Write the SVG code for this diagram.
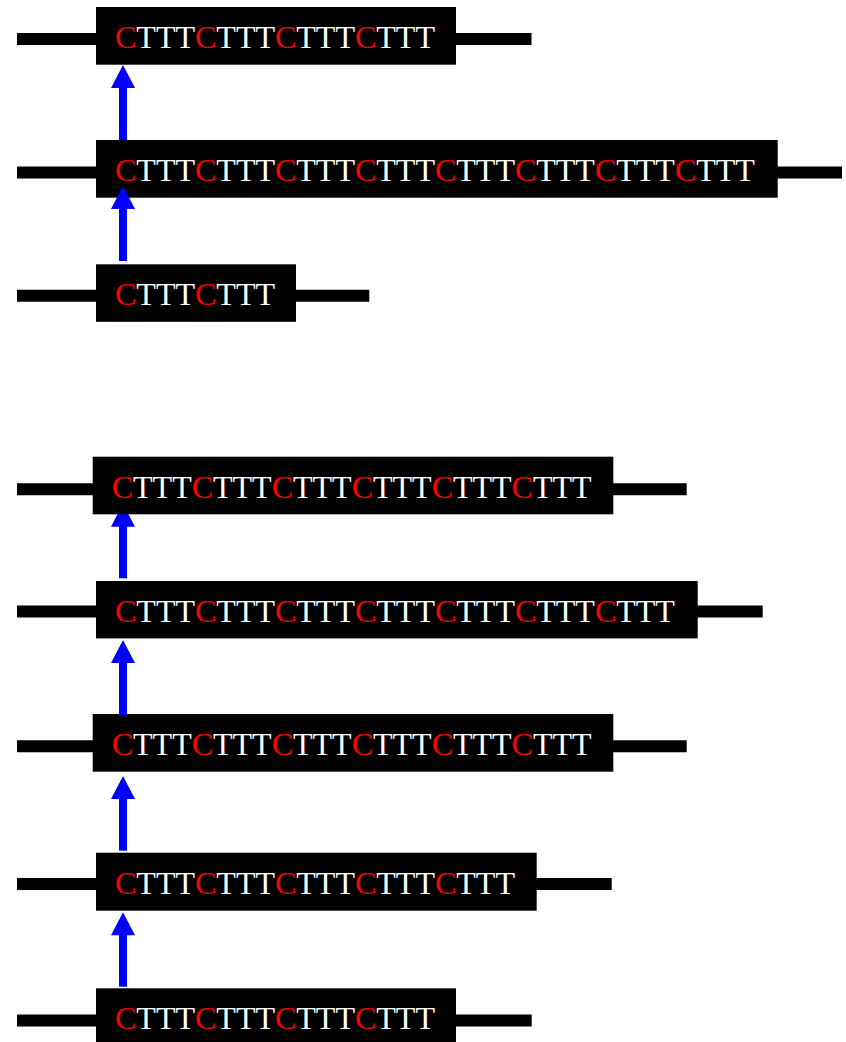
<svg xmlns="http://www.w3.org/2000/svg" width="846" height="1042" viewBox="0 0 846 1042">
<style>
.bb{stroke:#000;stroke-width:12;fill:none}
.box{fill:#000}
.t{font-family:"Liberation Serif","Times New Roman",serif;font-size:32px;fill:#fff}
.c{fill:#ff0000}
.arr{stroke:#0000ff;stroke-width:8;fill:none;marker-end:url(#ah)}
</style>
<defs>
<marker id="ah" markerUnits="userSpaceOnUse" markerWidth="24" markerHeight="24" refX="3" refY="12" orient="auto" viewBox="0 0 23 24">
<path d="M0,0 L23,12 L0,24 Z" fill="#0000ff"/>
</marker>
</defs>
<rect width="846" height="1042" fill="#fff"/>
<g id="row1">
<line class="bb" x1="17" y1="39" x2="531.5" y2="39"/>
<rect class="box" x="96" y="7" width="360" height="57.7"/>
<text class="t" x="115" y="48"><tspan class="c">C</tspan>TTT<tspan class="c">C</tspan>TTT<tspan class="c">C</tspan>TTT<tspan class="c">C</tspan>TTT</text>
</g>
<g id="row2">
<line class="bb" x1="17" y1="172.5" x2="842" y2="172.5"/>
<rect class="box" x="96" y="140" width="681.7" height="57.7"/>
<text class="t" x="115" y="181"><tspan class="c">C</tspan>TTT<tspan class="c">C</tspan>TTT<tspan class="c">C</tspan>TTT<tspan class="c">C</tspan>TTT<tspan class="c">C</tspan>TTT<tspan class="c">C</tspan>TTT<tspan class="c">C</tspan>TTT<tspan class="c">C</tspan>TTT</text>
</g>
<g id="row3">
<line class="bb" x1="17" y1="295.8" x2="369.3" y2="295.8"/>
<rect class="box" x="96" y="264.3" width="200" height="57.5"/>
<text class="t" x="115" y="305"><tspan class="c">C</tspan>TTT<tspan class="c">C</tspan>TTT</text>
</g>
<g id="row5">
<line class="bb" x1="17" y1="611.5" x2="762.7" y2="611.5"/>
<rect class="box" x="96" y="581" width="601.7" height="57.4"/>
<text class="t" x="115" y="622"><tspan class="c">C</tspan>TTT<tspan class="c">C</tspan>TTT<tspan class="c">C</tspan>TTT<tspan class="c">C</tspan>TTT<tspan class="c">C</tspan>TTT<tspan class="c">C</tspan>TTT<tspan class="c">C</tspan>TTT</text>
</g>
<g id="row6">
<line class="bb" x1="17" y1="746.2" x2="686.7" y2="746.2"/>
<rect class="box" x="92.7" y="714" width="520.6" height="57.7"/>
<text class="t" x="111.7" y="755"><tspan class="c">C</tspan>TTT<tspan class="c">C</tspan>TTT<tspan class="c">C</tspan>TTT<tspan class="c">C</tspan>TTT<tspan class="c">C</tspan>TTT<tspan class="c">C</tspan>TTT</text>
</g>
<g id="row7">
<line class="bb" x1="17" y1="883.9" x2="611.7" y2="883.9"/>
<rect class="box" x="96" y="852.7" width="440.7" height="58"/>
<text class="t" x="115" y="893.7"><tspan class="c">C</tspan>TTT<tspan class="c">C</tspan>TTT<tspan class="c">C</tspan>TTT<tspan class="c">C</tspan>TTT<tspan class="c">C</tspan>TTT</text>
</g>
<g id="row8">
<line class="bb" x1="17" y1="1020.5" x2="531.7" y2="1020.5"/>
<rect class="box" x="96" y="988.3" width="360" height="60"/>
<text class="t" x="115" y="1029.3"><tspan class="c">C</tspan>TTT<tspan class="c">C</tspan>TTT<tspan class="c">C</tspan>TTT<tspan class="c">C</tspan>TTT</text>
</g>
<g id="connectors">
<line class="arr" x1="123" y1="140" x2="123" y2="85"/>
<line class="arr" x1="123" y1="261" x2="123" y2="206"/>
<line class="arr" x1="123" y1="578.3" x2="123" y2="523.7"/>
<line class="arr" x1="123" y1="715" x2="123" y2="660"/>
<line class="arr" x1="123" y1="850.7" x2="123" y2="796"/>
<line class="arr" x1="123" y1="986.7" x2="123" y2="932.3"/>
</g>
<g id="row4">
<line class="bb" x1="17" y1="489.2" x2="686.7" y2="489.2"/>
<rect class="box" x="92.7" y="456.7" width="520.6" height="57.6"/>
<text class="t" x="111.7" y="497.7"><tspan class="c">C</tspan>TTT<tspan class="c">C</tspan>TTT<tspan class="c">C</tspan>TTT<tspan class="c">C</tspan>TTT<tspan class="c">C</tspan>TTT<tspan class="c">C</tspan>TTT</text>
</g>
</svg>
